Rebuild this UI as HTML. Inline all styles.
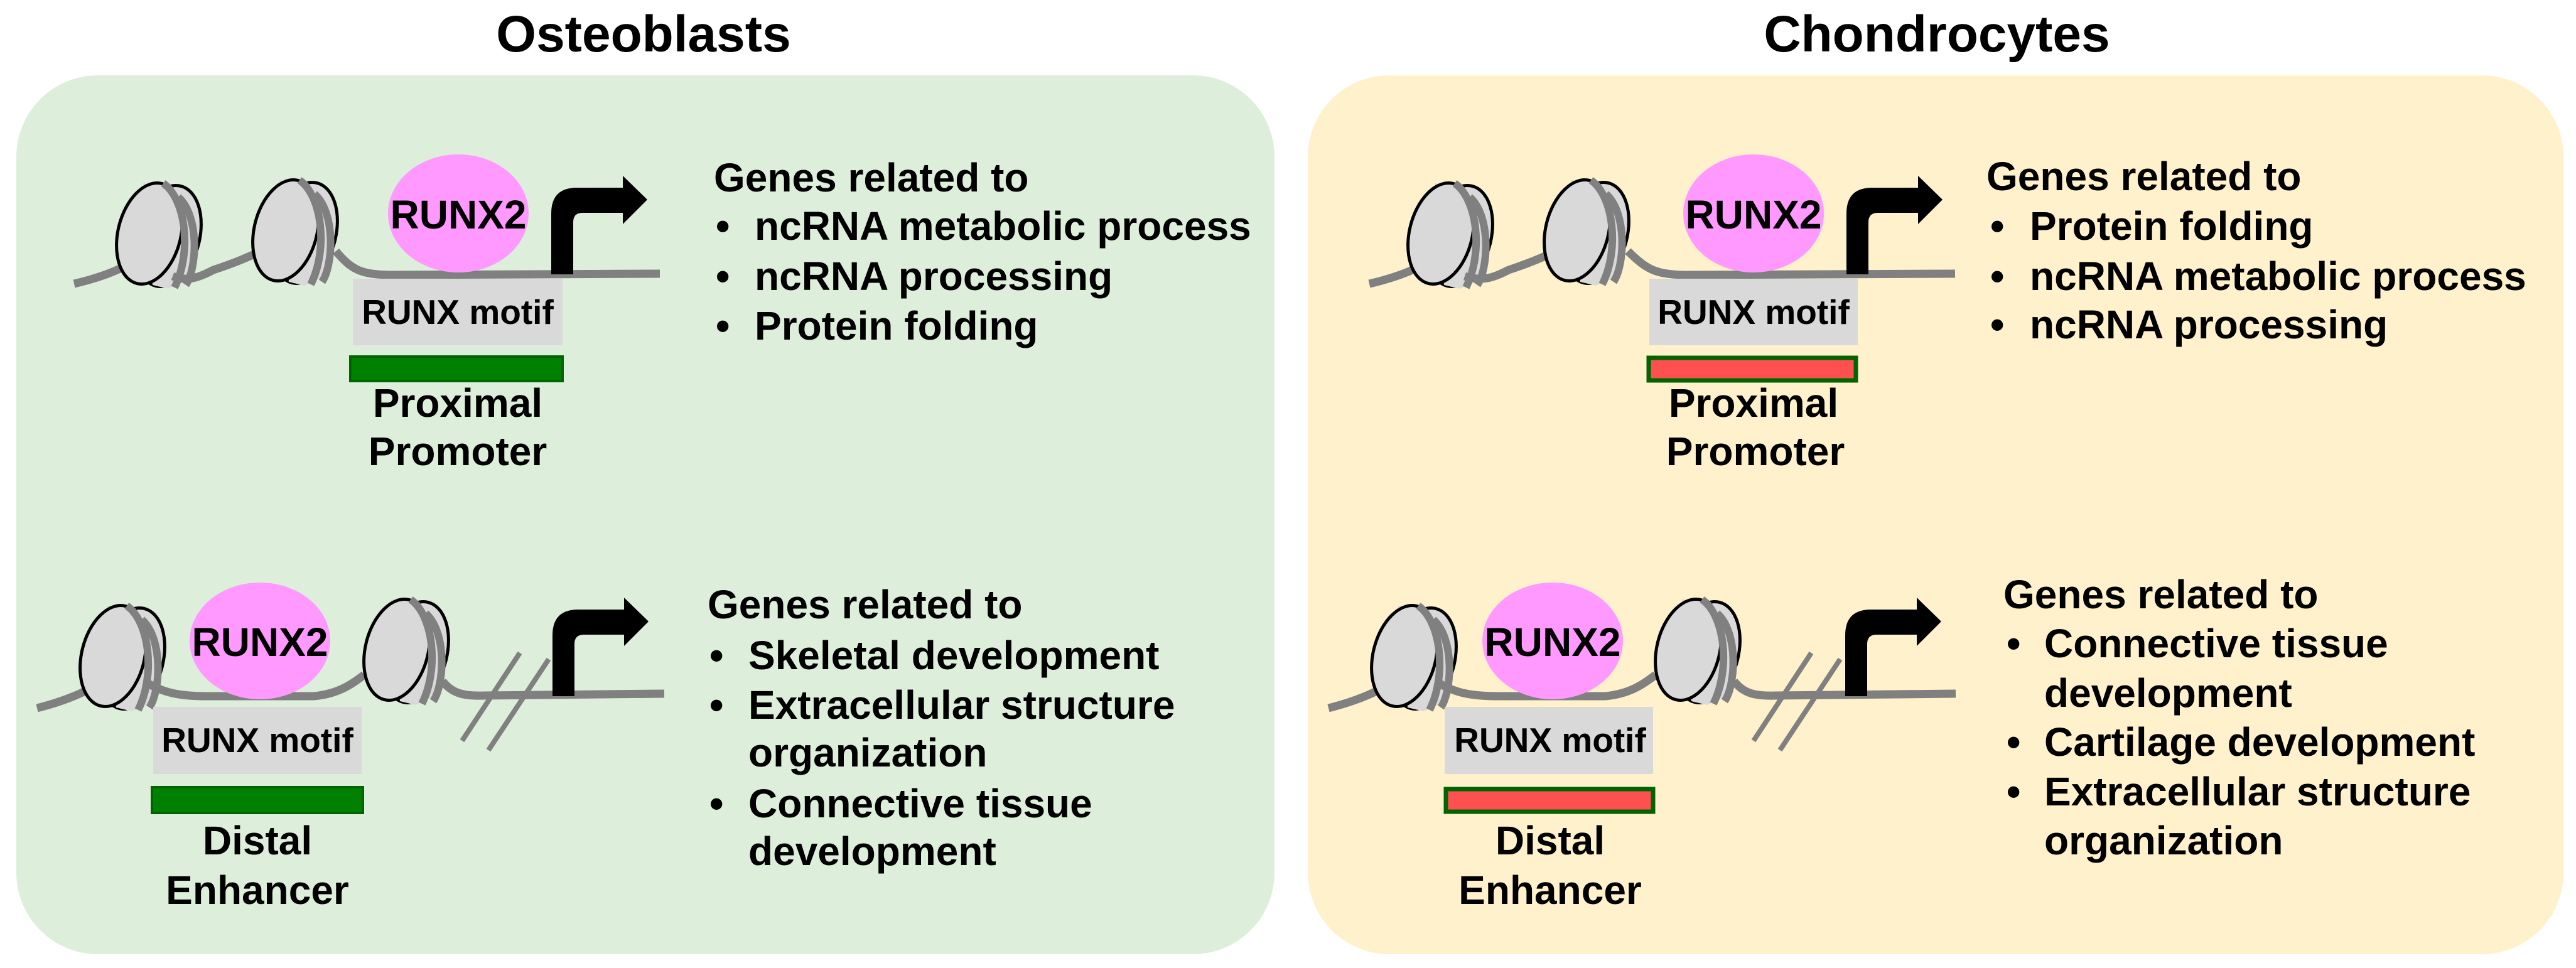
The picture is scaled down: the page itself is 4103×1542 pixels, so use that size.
<!DOCTYPE html>
<html><head><meta charset="utf-8"><style>
html,body{margin:0;padding:0;background:#fff;}
svg{display:block;}
text{font-family:"Liberation Sans",Arial,sans-serif;font-weight:bold;fill:#000;}
</style></head><body>
<svg width="4103" height="1542" viewBox="0 0 4103 1542" xmlns="http://www.w3.org/2000/svg">
<defs>
  <g id="nuc">
    <ellipse cx="30" cy="4" rx="50" ry="82" transform="rotate(14 30 4)" fill="#d9d9d9" stroke="#000" stroke-width="5"/>
    <path d="M-10 -80 L36 -76 L70 70 L30 88 L5 82 Z" fill="#d9d9d9"/>
    <ellipse cx="0" cy="0" rx="50" ry="82" transform="rotate(14)" fill="#d9d9d9" stroke="#000" stroke-width="5"/>
    <path d="M22 -80 C58 -55 68 30 40 86" fill="none" stroke="#808080" stroke-width="12"/>
    <path d="M46 -58 C80 -28 76 55 58 82" fill="none" stroke="#808080" stroke-width="12"/>
  </g>
  <path id="arr" d="M878 437 L878 340 Q878 299 919 299 L992 299 L992 280 L1031 318 L992 357 L992 339 L928 339 Q913 339 913 354 L913 437 Z" fill="#000"/>
</defs>

<rect x="26" y="120" width="2004" height="1400" rx="130" ry="130" fill="#ddeedb"/>
<rect x="2083" y="120" width="2000" height="1400" rx="130" ry="130" fill="#fff1cb"/>

<text x="1025" y="82" font-size="82" text-anchor="middle">Osteoblasts</text>
<text x="3085" y="82" font-size="82" text-anchor="middle">Chondrocytes</text>

<g>
  <path d="M118 452 C170 440 200 425 225 410" fill="none" stroke="#808080" stroke-width="13"/>
  <use href="#nuc" x="238" y="372"/>
  <path d="M275 440 C300 450 320 440 340 430 C370 420 395 410 415 400" fill="none" stroke="#808080" stroke-width="13"/>
  <use href="#nuc" x="455" y="367"/>
  <path d="M535 400 C560 430 575 437 620 438 L1051 436" fill="none" stroke="#808080" stroke-width="13"/>
  <ellipse cx="730" cy="340" rx="112" ry="94" fill="#ff99ff"/>
  <text x="730" y="364" font-size="64" text-anchor="middle">RUNX2</text>
  <use href="#arr"/>
  <rect x="562" y="444" width="334" height="106" fill="#d9d9d9"/>
  <text x="729" y="516" font-size="55" text-anchor="middle">RUNX motif</text>
</g>
<rect x="558" y="568" width="338" height="39" fill="#008000" stroke="#006400" stroke-width="4"/>
<text x="729" y="664" font-size="64" text-anchor="middle">Proximal</text>
<text x="729" y="741" font-size="64" text-anchor="middle">Promoter</text>

<text x="1137" y="305" font-size="64">Genes related to</text>
<text x="1140" y="382" font-size="64">•</text><text x="1202" y="382" font-size="64">ncRNA metabolic process</text>
<text x="1140" y="462" font-size="64">•</text><text x="1202" y="462" font-size="64">ncRNA processing</text>
<text x="1140" y="541" font-size="64">•</text><text x="1202" y="541" font-size="64">Protein folding</text>

<g>
  <path d="M59 1128 C110 1115 140 1100 165 1085" fill="none" stroke="#808080" stroke-width="13"/>
  <use href="#nuc" x="180" y="1045"/>
  <path d="M230 1085 C260 1105 290 1109 330 1109 L500 1109 C540 1105 560 1090 580 1075" fill="none" stroke="#808080" stroke-width="13"/>
  <use href="#nuc" x="632" y="1035"/>
  <path d="M705 1085 C720 1105 740 1109 770 1108 L1058 1105" fill="none" stroke="#808080" stroke-width="13"/>
  <line x1="828" y1="1040" x2="736" y2="1180" stroke="#808080" stroke-width="8"/>
  <line x1="874" y1="1050" x2="778" y2="1195" stroke="#808080" stroke-width="8"/>
  <ellipse cx="414" cy="1021" rx="112" ry="93" fill="#ff99ff"/>
  <text x="414" y="1045" font-size="64" text-anchor="middle">RUNX2</text>
  <use href="#arr" transform="translate(2 672)"/>
  <rect x="244" y="1126" width="332" height="107" fill="#d9d9d9"/>
  <text x="410" y="1198" font-size="55" text-anchor="middle">RUNX motif</text>
</g>
<rect x="242" y="1254" width="336" height="41" fill="#008000" stroke="#006400" stroke-width="4"/>
<text x="410" y="1361" font-size="64" text-anchor="middle">Distal</text>
<text x="410" y="1440" font-size="64" text-anchor="middle">Enhancer</text>

<text x="1127" y="985" font-size="64">Genes related to</text>
<text x="1130" y="1066" font-size="64">•</text><text x="1192" y="1066" font-size="64">Skeletal development</text>
<text x="1130" y="1145" font-size="64">•</text><text x="1192" y="1145" font-size="64">Extracellular structure</text>
<text x="1192" y="1221" font-size="64">organization</text>
<text x="1130" y="1302" font-size="64">•</text><text x="1192" y="1302" font-size="64">Connective tissue</text>
<text x="1192" y="1378" font-size="64">development</text>

<g transform="translate(2063 0)">
  <path d="M118 452 C170 440 200 425 225 410" fill="none" stroke="#808080" stroke-width="13"/>
  <use href="#nuc" x="232" y="372"/>
  <path d="M270 440 C300 450 320 440 340 430 C370 420 395 410 415 400" fill="none" stroke="#808080" stroke-width="13"/>
  <use href="#nuc" x="449" y="367"/>
  <path d="M530 400 C560 430 575 437 620 438 L1051 436" fill="none" stroke="#808080" stroke-width="13"/>
  <ellipse cx="730" cy="340" rx="112" ry="94" fill="#ff99ff"/>
  <text x="730" y="364" font-size="64" text-anchor="middle">RUNX2</text>
  <use href="#arr"/>
  <rect x="564" y="444" width="332" height="106" fill="#d9d9d9"/>
  <text x="730" y="516" font-size="55" text-anchor="middle">RUNX motif</text>
  <rect x="563" y="570" width="330" height="36" fill="#ff5050" stroke="#006400" stroke-width="7"/>
  <text x="730" y="664" font-size="64" text-anchor="middle">Proximal</text>
  <text x="733" y="741" font-size="64" text-anchor="middle">Promoter</text>
</g>
<text x="3164" y="303" font-size="64">Genes related to</text>
<text x="3170" y="382" font-size="64">•</text><text x="3233" y="382" font-size="64">Protein folding</text>
<text x="3170" y="462" font-size="64">•</text><text x="3233" y="462" font-size="64">ncRNA metabolic process</text>
<text x="3170" y="539" font-size="64">•</text><text x="3233" y="539" font-size="64">ncRNA processing</text>

<g transform="translate(2057 0)">
  <path d="M59 1128 C110 1115 140 1100 165 1085" fill="none" stroke="#808080" stroke-width="13"/>
  <use href="#nuc" x="180" y="1045"/>
  <path d="M230 1085 C260 1105 290 1109 330 1109 L500 1109 C540 1105 560 1090 580 1075" fill="none" stroke="#808080" stroke-width="13"/>
  <use href="#nuc" x="632" y="1035"/>
  <path d="M705 1085 C720 1105 740 1109 770 1108 L1058 1105" fill="none" stroke="#808080" stroke-width="13"/>
  <line x1="828" y1="1040" x2="736" y2="1180" stroke="#808080" stroke-width="8"/>
  <line x1="874" y1="1050" x2="778" y2="1195" stroke="#808080" stroke-width="8"/>
  <ellipse cx="416" cy="1021" rx="112" ry="93" fill="#ff99ff"/>
  <text x="416" y="1045" font-size="64" text-anchor="middle">RUNX2</text>
  <use href="#arr" transform="translate(4 672)"/>
  <rect x="244" y="1126" width="332" height="107" fill="#d9d9d9"/>
  <text x="412" y="1198" font-size="55" text-anchor="middle">RUNX motif</text>
  <rect x="246" y="1257" width="330" height="36" fill="#ff5050" stroke="#006400" stroke-width="7"/>
  <text x="412" y="1361" font-size="64" text-anchor="middle">Distal</text>
  <text x="412" y="1440" font-size="64" text-anchor="middle">Enhancer</text>
</g>
<text x="3191" y="969" font-size="64">Genes related to</text>
<text x="3196" y="1047" font-size="64">•</text><text x="3256" y="1047" font-size="64">Connective tissue</text>
<text x="3256" y="1126" font-size="64">development</text>
<text x="3196" y="1204" font-size="64">•</text><text x="3256" y="1204" font-size="64">Cartilage development</text>
<text x="3196" y="1283" font-size="64">•</text><text x="3256" y="1283" font-size="64">Extracellular structure</text>
<text x="3256" y="1361" font-size="64">organization</text>
</svg>
</body></html>
